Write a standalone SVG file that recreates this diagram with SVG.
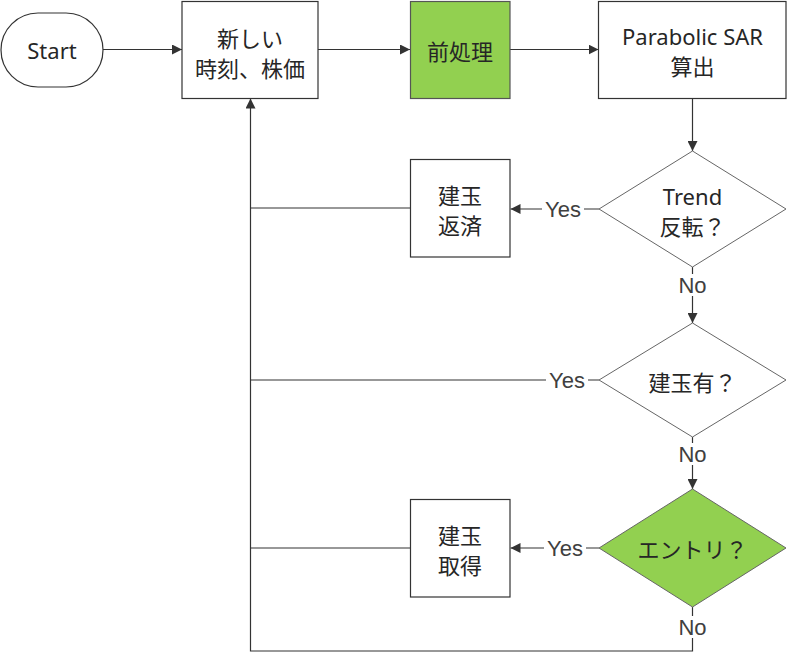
<svg xmlns="http://www.w3.org/2000/svg" width="787" height="654" viewBox="0 0 787 654">
<style>
.box{fill:#fff;stroke:#333;stroke-width:1.2}
.green{fill:#92d050;stroke:#555;stroke-width:1.2}
.dia{fill:#fff;stroke:#666;stroke-width:1}
.diag{fill:#92d050;stroke:#666;stroke-width:1}
.t{font-family:"Noto Sans","Noto Sans CJK JP",sans-serif;font-size:22px;fill:#262626;text-anchor:middle;dominant-baseline:central}
.lbl{font-family:"Liberation Sans",Arial,sans-serif;font-size:22px;fill:#404040;text-anchor:middle;dominant-baseline:central}
.ln{fill:none;stroke:#333;stroke-width:1.2}
.bg{fill:#fff}
</style>
<defs>
<marker id="ah" markerUnits="userSpaceOnUse" markerWidth="10" markerHeight="10" refX="10" refY="5" orient="auto" viewBox="0 0 10 10">
<path d="M0,0 L10,5 L0,10 z" fill="#333"/>
</marker>
</defs>
<g id="connectors">
<line class="ln" x1="103" y1="49.5" x2="182" y2="49.5" marker-end="url(#ah)"/>
<line class="ln" x1="318" y1="49.5" x2="410" y2="49.5" marker-end="url(#ah)"/>
<line class="ln" x1="510" y1="49.5" x2="598.5" y2="49.5" marker-end="url(#ah)"/>
<line class="ln" x1="692.5" y1="98" x2="692.5" y2="151" marker-end="url(#ah)"/>
<line class="ln" x1="599" y1="209" x2="510.5" y2="209" marker-end="url(#ah)"/>
<line class="ln" x1="410" y1="208" x2="250.5" y2="208"/>
<line class="ln" x1="692.5" y1="267" x2="692.5" y2="323" marker-end="url(#ah)"/>
<line class="ln" x1="599" y1="380" x2="250.5" y2="380"/>
<line class="ln" x1="692.5" y1="437" x2="692.5" y2="489" marker-end="url(#ah)"/>
<line class="ln" x1="599" y1="548" x2="510.5" y2="548" marker-end="url(#ah)"/>
<line class="ln" x1="410" y1="548" x2="250.5" y2="548"/>
<polyline class="ln" points="692.5,607 692.5,651 250.5,651 250.5,98.5" marker-end="url(#ah)"/>
<g id="lbl-yes1"><rect class="bg" x="542" y="198" width="42" height="22"/><text class="lbl" x="563" y="209">Yes</text></g>
<g id="lbl-no1"><rect class="bg" x="677" y="274" width="31" height="22"/><text class="lbl" x="692.5" y="285">No</text></g>
<g id="lbl-yes2"><rect class="bg" x="546" y="369" width="42" height="22"/><text class="lbl" x="567" y="380">Yes</text></g>
<g id="lbl-no2"><rect class="bg" x="677" y="443" width="31" height="22"/><text class="lbl" x="692.5" y="454">No</text></g>
<g id="lbl-yes3"><rect class="bg" x="544" y="537" width="42" height="22"/><text class="lbl" x="565" y="548">Yes</text></g>
<g id="lbl-no3"><rect class="bg" x="677" y="616" width="31" height="22"/><text class="lbl" x="692.5" y="627">No</text></g>
</g>
<g id="start">
<rect class="box" x="1" y="13" width="102" height="74" rx="37" ry="37"/>
<text class="t" x="52" y="50">Start</text>
</g>
<g id="input">
<rect class="box" x="182" y="1.5" width="136" height="97"/>
<text class="t" x="250" y="37.5">新しい</text>
<text class="t" x="250" y="67.5">時刻、株価</text>
</g>
<g id="preprocess">
<rect class="green" x="410.5" y="1.5" width="99.5" height="97"/>
<text class="t" x="460" y="50.5">前処理</text>
</g>
<g id="sar">
<rect class="box" x="598.5" y="1.5" width="187.5" height="97"/>
<text class="t" x="692.5" y="36">Parabolic SAR</text>
<text class="t" x="692.5" y="66">算出</text>
</g>
<g id="trend">
<polygon class="dia" points="692.5,151 786,209 692.5,267 599,209"/>
<text class="t" x="692.5" y="195.5">Trend</text>
<text class="t" x="692.5" y="226">反転？</text>
</g>
<g id="close">
<rect class="box" x="410.5" y="159.5" width="99.5" height="97.5"/>
<text class="t" x="460" y="195">建玉</text>
<text class="t" x="460" y="225">返済</text>
</g>
<g id="haspos">
<polygon class="dia" points="692.5,323 786,380 692.5,437 599,380"/>
<text class="t" x="692.5" y="381.5">建玉有？</text>
</g>
<g id="entry">
<polygon class="diag" points="692.5,489 786,548 692.5,607 599,548"/>
<text class="t" x="692.5" y="549">エントリ？</text>
</g>
<g id="open">
<rect class="box" x="410.5" y="499.5" width="99.5" height="97.5"/>
<text class="t" x="460" y="535">建玉</text>
<text class="t" x="460" y="565">取得</text>
</g>
</svg>
